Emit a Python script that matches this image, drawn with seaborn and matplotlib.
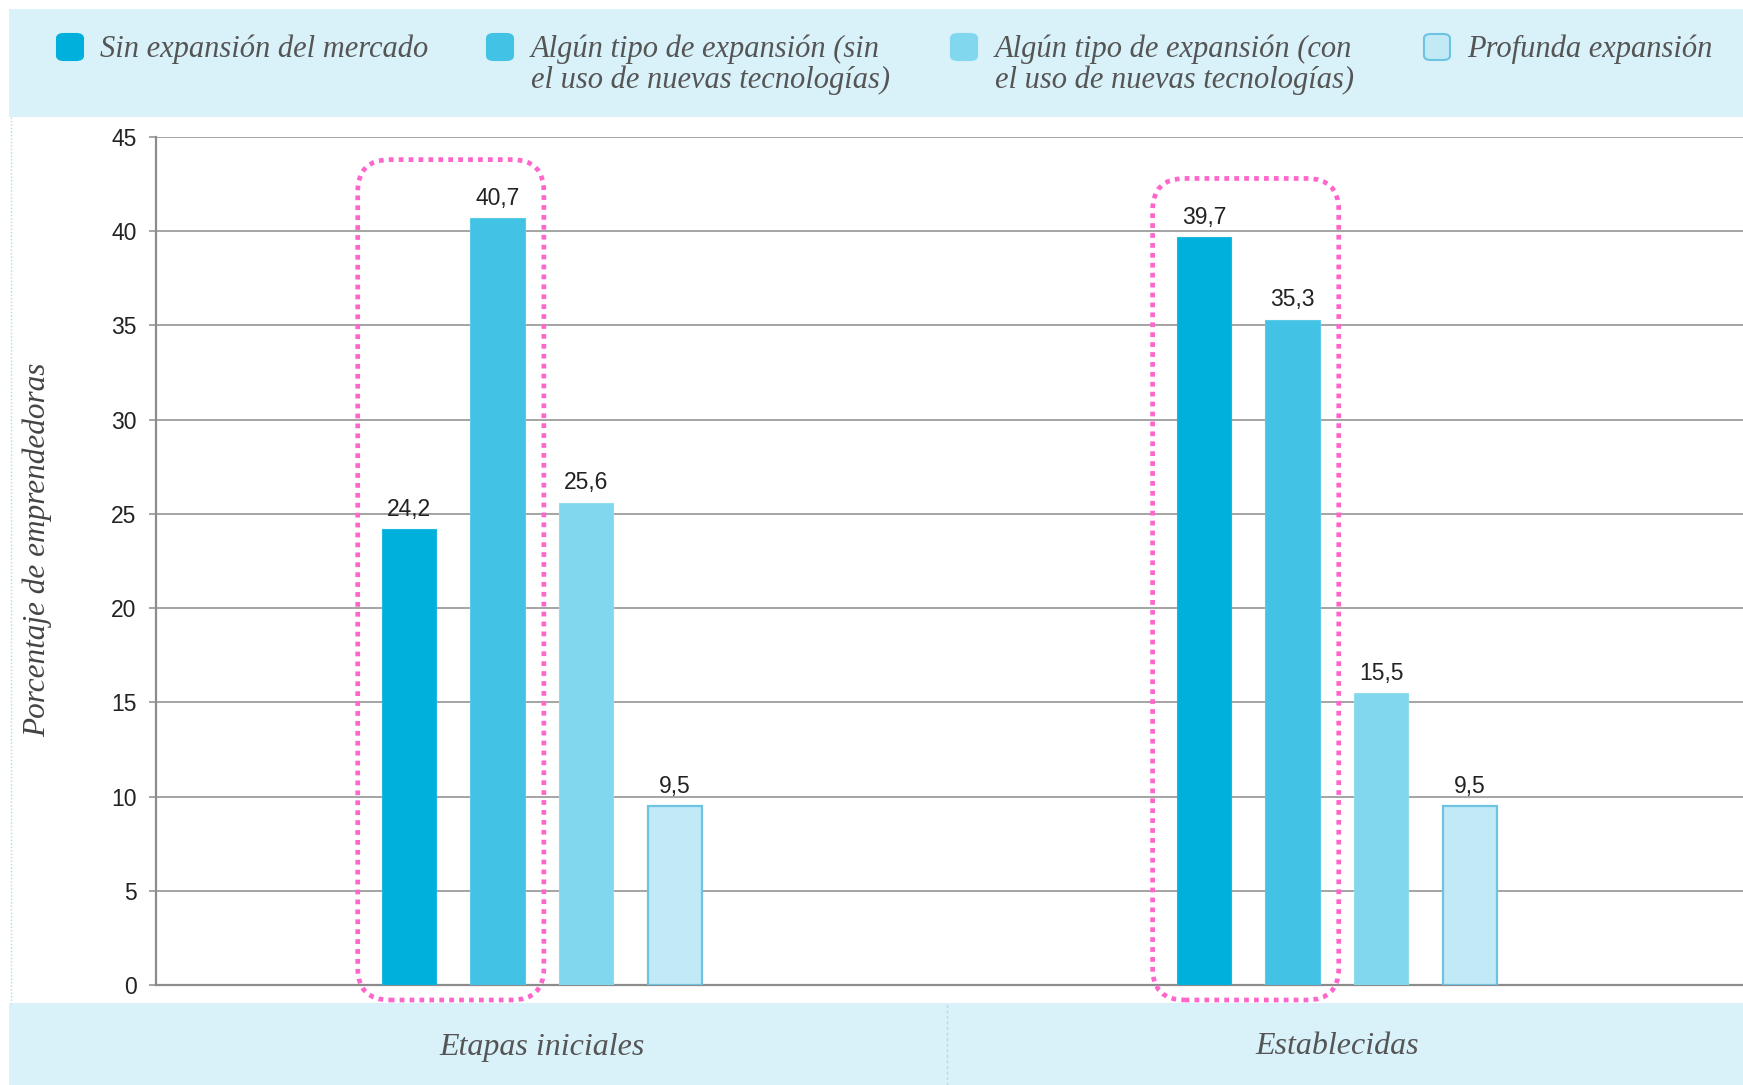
import matplotlib
matplotlib.use("Agg")
import matplotlib.pyplot as plt
import matplotlib.transforms as mtransforms
from matplotlib.patches import FancyBboxPatch, Rectangle
from matplotlib.lines import Line2D
import seaborn as sns
import pandas as pd

# ---- data ----
etapas = ["Etapas iniciales", "Establecidas"]
tipos = [
    "Sin expansión del mercado",
    "Algún tipo de expansión (sin\nel uso de nuevas tecnologías)",
    "Algún tipo de expansión (con\nel uso de nuevas tecnologías)",
    "Profunda expansión",
]
sin_expansion = [24.2, 39.7]
expansion_sin_tec = [40.7, 35.3]
expansion_con_tec = [25.6, 15.5]
profunda = [9.5, 9.5]
y_ticks = [0, 5, 10, 15, 20, 25, 30, 35, 40, 45]
y_label = "Porcentaje de emprendedoras"

series = [sin_expansion, expansion_sin_tec, expansion_con_tec, profunda]
rows = []
for t, vals in zip(tipos, series):
    for e, v in zip(etapas, vals):
        rows.append({"Etapa": e, "Tipo": t, "Valor": v})
df = pd.DataFrame(rows)

colors = ["#00B0DC", "#42C2E4", "#80D7EE", "#C2EAF6"]
edges = ["#1DB8E0", "#5CCBE8", "#92DCF0", "#6EC3E3"]

sns.set_theme(style="white")
serif = ["Liberation Serif", "DejaVu Serif"]
sans = ["Liberation Sans", "DejaVu Sans"]

W, H = 1743, 1085
fig = plt.figure(figsize=(W / 100, H / 100), dpi=100)
fig.patch.set_facecolor("white")

band = "#D9F1F9"
# top band
fig.patches.append(Rectangle((9 / W, 1 - 117 / H), 1, (117 - 9) / H,
                             transform=fig.transFigure, facecolor=band,
                             edgecolor="none", zorder=0))
# bottom band
fig.patches.append(Rectangle((9 / W, 0), 1, (1085 - 1003) / H,
                             transform=fig.transFigure, facecolor=band,
                             edgecolor="none", zorder=0))
# left dotted frame line
fig.lines.append(Line2D([11 / W, 11 / W], [1 - 117 / H, 1 - 1003 / H],
                        transform=fig.transFigure, color="#A8DDEE",
                        lw=1, ls=(0, (1, 1.5))))
# bottom divider
fig.lines.append(Line2D([947 / W, 947 / W], [0, (1085 - 1003) / H],
                        transform=fig.transFigure, color="#A8DDEE",
                        lw=1, ls=(0, (2, 2))))

ax = fig.add_axes([156 / W, 100 / H, 1 - 156 / W, (985 - 137) / H])
ax.set_facecolor("none")

sns.barplot(data=df, x="Etapa", y="Valor", hue="Tipo", hue_order=tipos,
            order=etapas, palette=colors, width=0.446, gap=0.385,
            ax=ax, legend=False, saturation=1)

for i, cont in enumerate(ax.containers):
    for p in cont:
        p.set_edgecolor(edges[i])
        p.set_linewidth(1.6 if i == 3 else 0.8)
        p.set_zorder(3)
    ax.bar_label(cont, labels=[f"{v:.1f}".replace(".", ",") for v in series[i]],
                 padding=6, fontsize=16.5, color="#222222", family=sans)

ax.set_ylim(0, 45)
ax.set_xlim(-0.4855, 1.511)
ax.set_yticks(y_ticks)
ax.set_yticklabels([str(t) for t in y_ticks], family=sans, fontsize=16.5, color="#222222")
ax.set_xticks([])
ax.set_xlabel("")
ax.set_ylabel("")
ax.grid(axis="y", color="#8C8C8C", lw=1.1, zorder=1)
ax.set_axisbelow(True)
ax.tick_params(axis="y", length=5, width=1.1, color="#8C8C8C", pad=9, left=True)
for s in ["top", "right"]:
    ax.spines[s].set_visible(False)
for s in ["left", "bottom"]:
    ax.spines[s].set_visible(True)
    ax.spines[s].set_color("#8C8C8C")
    ax.spines[s].set_linewidth(1.6)

fig.text(37 / W, 1 - 550 / H, y_label, rotation=90, ha="center", va="center",
         fontsize=22.5, style="italic", family=serif, color="#444444")

# x category labels in bottom band
blend = mtransforms.blended_transform_factory(ax.transData, fig.transFigure)
for i, e in enumerate(etapas):
    fig.text(i, 1 - 1047 / H, e, transform=blend, ha="center", va="center",
             fontsize=23, style="italic", family=serif, color="#555555")

# legend (manual, in top band)
mark_x = [70, 500, 964, 1437]
text_x = [100, 531, 995, 1467]
for i, t in enumerate(tipos):
    s = 26
    fig.patches.append(FancyBboxPatch(((mark_x[i] - s / 2) / W, 1 - (47 + s / 2) / H),
                                      s / W, s / H, boxstyle="round,pad=0,rounding_size=0.004",
                                      transform=fig.transFigure, facecolor=colors[i],
                                      edgecolor=edges[i] if i == 3 else colors[i],
                                      lw=1.5, zorder=2))
    for j, line in enumerate(t.split("\n")):
        fig.text(text_x[i] / W, 1 - (57 + 31 * j) / H, line, ha="left", va="baseline",
                 fontsize=22, style="italic", family=serif, color="#555555")

# pink dotted highlight boxes around first two bars of each group
fig.canvas.draw()
for g in range(len(etapas)):
    b1 = ax.containers[0][g]
    b2 = ax.containers[1][g]
    x0 = ax.transData.transform((b1.get_x(), 0))[0] - 24
    x1 = ax.transData.transform((b2.get_x() + b2.get_width(), 0))[0] + 19
    top_val = max(series[0][g], series[1][g]) + 3.1
    y1 = ax.transData.transform((0, top_val))[1]
    y0 = ax.transData.transform((0, 0))[1] - 15
    box = FancyBboxPatch((x0, y0), x1 - x0, y1 - y0,
                         boxstyle="round,pad=0,rounding_size=32",
                         transform=mtransforms.IdentityTransform(),
                         facecolor="none", edgecolor="#FF66CC", lw=3.4,
                         ls=(0, (1, 1.1)), zorder=5)
    fig.patches.append(box)

fig.savefig("out.png", dpi=100)
